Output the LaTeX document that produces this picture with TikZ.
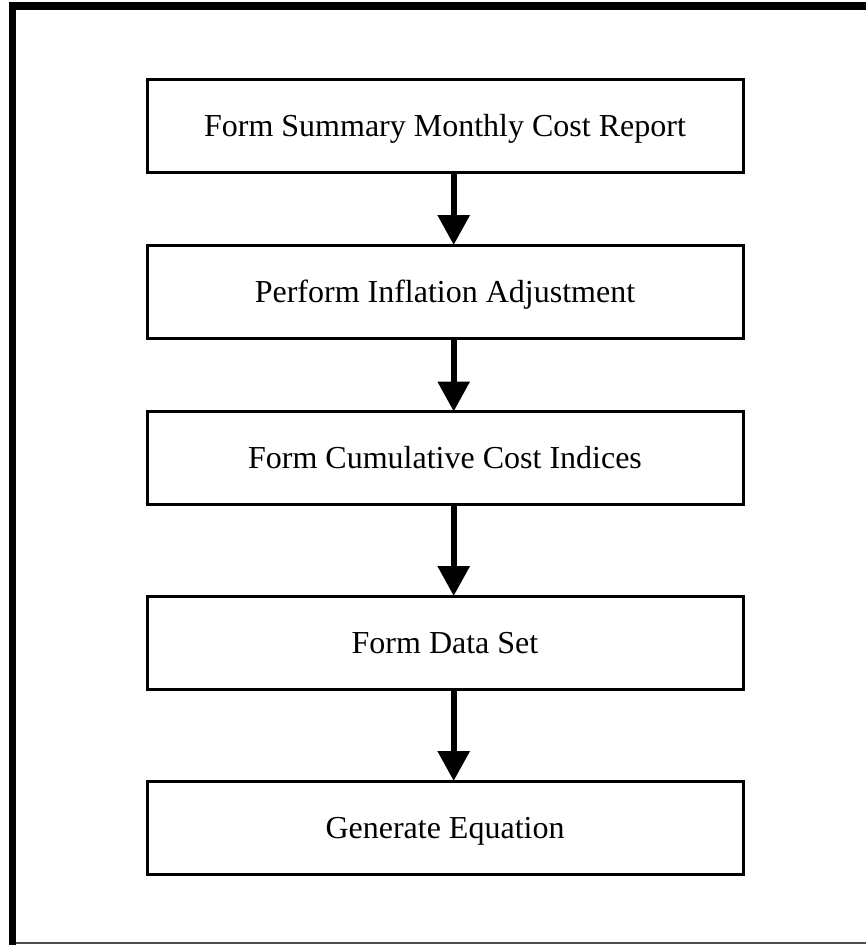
\documentclass[tikz,border=0pt]{standalone}
\usepackage{fontspec}
\setmainfont{Liberation Serif}
\usetikzlibrary{arrows.meta}
\begin{document}
\begin{tikzpicture}[x=1pt,y=-1pt,
  stepbox/.style={draw=black,line width=3pt,minimum width=596pt,minimum height=93pt,
    inner sep=0pt,outer sep=0pt,text height=21pt,text depth=0pt,
    font=\fontsize{32pt}{38pt}\selectfont,anchor=center},
  flowarrow/.style={line width=6pt,-{Triangle[width=31pt,length=30pt]}}]
\useasboundingbox (0,0) rectangle (866,945);
\fill[white] (0,0) rectangle (866,945);
% outer frame
\draw[line width=7.5pt] (12.5,945) -- (12.5,6) -- (866,6);
\draw[line width=1.5pt,black!70] (16,943.2) -- (866,943.2);
% boxes
\node[stepbox] (b1) at (445,125.5) {Form Summary Monthly Cost Report};
\node[stepbox] (b2) at (445,291.5) {Perform Inflation Adjustment};
\node[stepbox] (b3) at (445,458) {Form Cumulative Cost Indices};
\node[stepbox] (b4) at (445,642.5) {Form Data Set};
\node[stepbox] (b5) at (445,827.5) {Generate Equation};
% arrows
\draw[flowarrow] (b1.south -| 453.7,0) -- (b2.north -| 453.7,0);
\draw[flowarrow] (b2.south -| 453.7,0) -- (b3.north -| 453.7,0);
\draw[flowarrow] (b3.south -| 453.7,0) -- (b4.north -| 453.7,0);
\draw[flowarrow] (b4.south -| 453.7,0) -- (b5.north -| 453.7,0);
\end{tikzpicture}
\end{document}
